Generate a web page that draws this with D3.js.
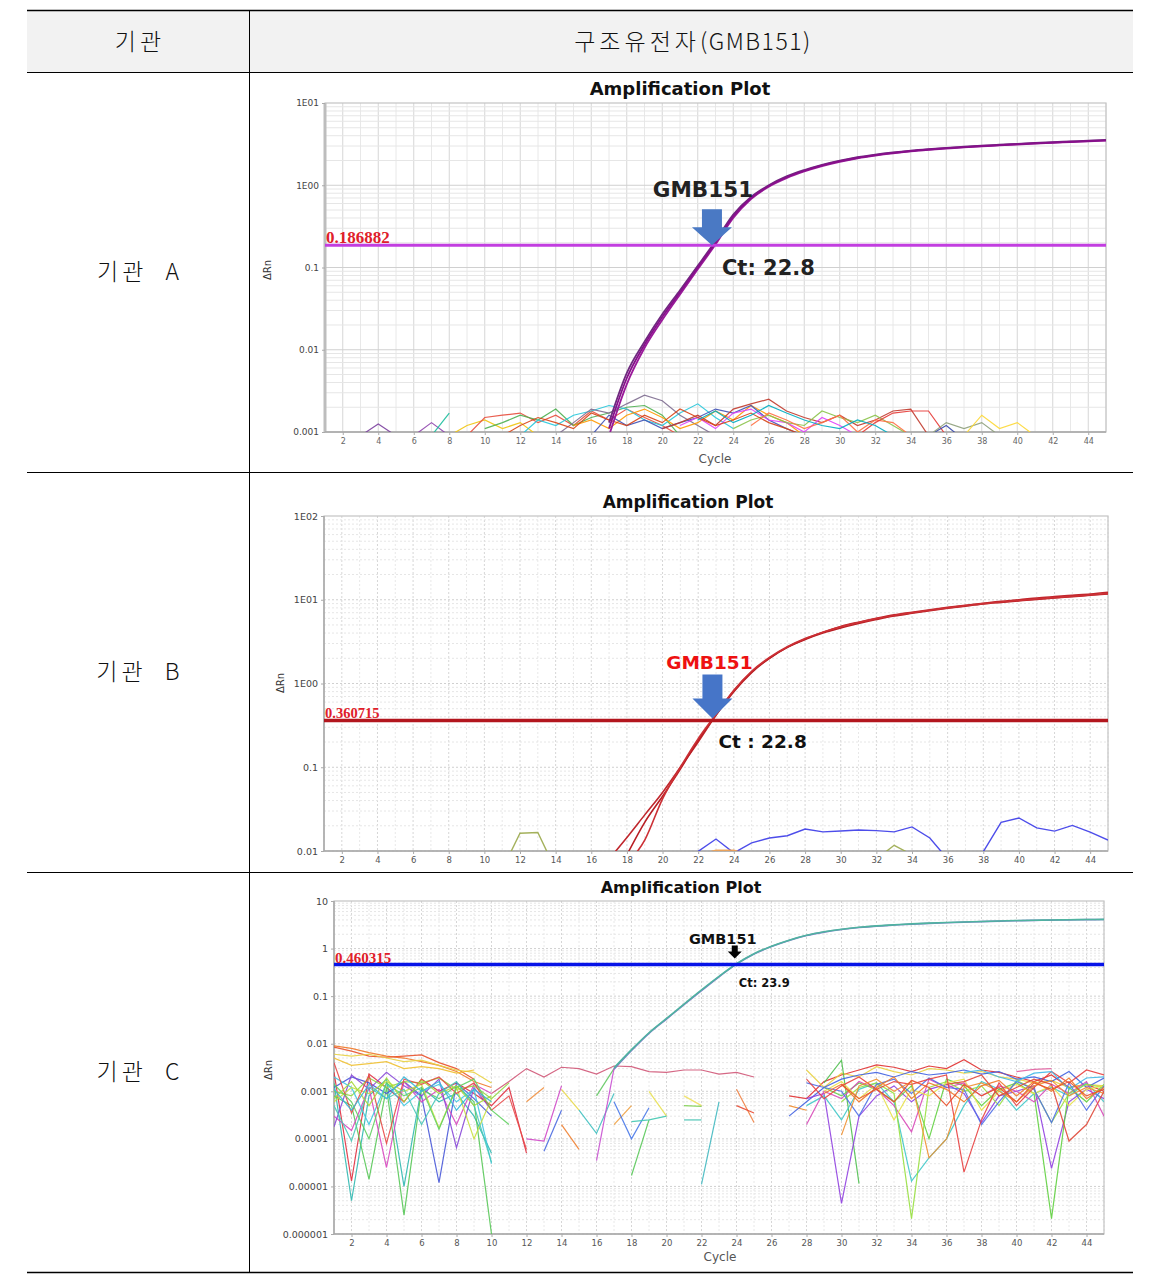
<!DOCTYPE html>
<html><head><meta charset="utf-8">
<script src="https://cdn.jsdelivr.net/npm/d3@7"></script>
<style>body{margin:0;background:#fff}</style>
</head><body><svg id="c" width="1151" height="1278"></svg>
<script>
// ---------------- DATA ----------------
const headerLabels = ["기관", "구조유전자", "(GMB151)"];
const institutions = ["기관  A", "기관  B", "기관  C"];
const plotTitle = "Amplification Plot";
const targetName = "GMB151";
const thresholds = [0.186882, 0.360715, 0.460315];
const thresholdLabels = ["0.186882", "0.360715", "0.460315"];
const ctValues = [22.8, 22.8, 23.9];
const ctLabels = ["Ct: 22.8", "Ct : 22.8", "Ct: 23.9"];
const xTickValues = [2,4,6,8,10,12,14,16,18,20,22,24,26,28,30,32,34,36,38,40,42,44];
const yTickValuesA = [10, 1, 0.1, 0.01, 0.001];
const yTickLabelsA = ["1E01", "1E00", "0.1", "0.01", "0.001"];
const yTickValuesB = [100, 10, 1, 0.1, 0.01];
const yTickLabelsB = ["1E02", "1E01", "1E00", "0.1", "0.01"];
const yTickValuesC = [10, 1, 0.1, 0.01, 0.001, 0.0001, 0.00001, 0.000001];
const yTickLabelsC = ["10", "1", "0.1", "0.01", "0.001", "0.0001", "0.00001", "0.000001"];

// amplification curves: [startCycle, values...]
const ampA1 = [17, 0.0011,0.0045,0.0115,0.025,0.05,0.1,0.2,0.42,0.7,0.98,1.25,1.5,1.74,1.96,2.16,2.33,2.48,2.61,2.72,2.82,2.91,3.0,3.08,3.16,3.24,3.31,3.38,3.45,3.52];
const ampA2 = [17, 0.0009,0.0038,0.0105,0.023,0.047,0.095,0.19,0.4,0.68,0.96,1.22,1.47,1.71,1.93,2.13,2.3,2.45,2.58,2.69,2.79,2.88,2.97,3.05,3.13,3.21,3.28,3.35,3.42,3.48];
const ampA3 = [17, 0.0013,0.0052,0.0125,0.027,0.053,0.105,0.21,0.44,0.72,1.0,1.28,1.53,1.77,1.99,2.19,2.36,2.51,2.64,2.75,2.85,2.94,3.03,3.11,3.19,3.27,3.34,3.41,3.48,3.56];
const ampB1 = [17, 0.008,0.0145,0.027,0.05,0.1,0.2,0.42,0.82,1.38,2.0,2.7,3.4,4.1,4.8,5.4,6.0,6.6,7.1,7.6,8.1,8.6,9.1,9.6,10.0,10.5,10.9,11.3,11.7,12.3];
const ampB2 = [18, 0.009,0.022,0.045,0.095,0.21,0.42,0.8,1.35,2.0,2.7,3.35,4.0,4.6,5.2,5.8,6.4,6.9,7.4,7.9,8.4,8.9,9.3,9.7,10.1,10.5,10.9,11.3,11.7];
const ampB3 = [18, 0.007,0.0135,0.042,0.1,0.22,0.43,0.83,1.4,2.05,2.75,3.45,4.1,4.75,5.35,5.95,6.5,7.0,7.5,8.0,8.5,9.0,9.4,9.8,10.2,10.6,11.0,11.4,11.9];
const ampC1 = [17, 0.0031,0.0075,0.017,0.034,0.068,0.135,0.26,0.48,0.78,1.12,1.5,1.9,2.25,2.55,2.8,3.0,3.15,3.3,3.42,3.52,3.62,3.72,3.8,3.88,3.94,4.0,4.04,4.08,4.1];
const ampC2 = [17, 0.0029,0.0072,0.0165,0.033,0.066,0.13,0.255,0.47,0.77,1.1,1.48,1.88,2.22,2.52,2.77,2.97,3.12,3.27,3.39,3.49,3.59,3.69,3.77,3.85,3.91,3.97,4.01,4.05,4.08];

// background (no-amplification) traces: [startCycle, values...]
const noiseA = [
  [3, 0.0009,0.00125,0.0009],
  [6, 0.0009,0.0013,0.0009],
  [7, 0.0009,0.0017],
  [8, 0.0009,0.0012,0.0014,0.0011,0.0013,0.0009],
  [9, 0.0009,0.0015,0.0016,0.0017,0.0013,0.0016,0.0012,0.0018,0.0014,0.0019,0.0015,0.0012,0.0009],
  [10, 0.0011,0.0013,0.0016,0.0014,0.0019,0.0012,0.0015,0.0017,0.002,0.0021,0.0016,0.0009],
  [12, 0.0009,0.0014,0.0012,0.0016,0.0018,0.0021,0.0019,0.0014,0.0012,0.0017,0.0022,0.0015,0.0011],
  [14, 0.0009,0.0013,0.0019,0.0017,0.0022,0.0028,0.0024,0.0016,0.0012,0.0009],
  [15, 0.0012,0.0014,0.0011,0.0016,0.0019,0.0015,0.0011,0.0013,0.0018,0.0014,0.0021,0.0016,0.0013,0.0009],
  [16, 0.0009,0.0016,0.0012,0.0014,0.0011,0.0013,0.0015,0.0019,0.0017,0.0021,0.0014,0.0011,0.0009],
  [20, 0.0011,0.0013,0.0016,0.0012,0.0019,0.0022,0.0025,0.0018,0.0015,0.0013,0.0016,0.0012,0.0014,0.0018,0.0019,0.0009],
  [21, 0.0012,0.0015,0.0011,0.0017,0.0019,0.0014,0.0013,0.001,0.0015,0.0012,0.0009],
  [24, 0.0011,0.0014,0.0016,0.0013,0.0012,0.0018,0.0015,0.0013,0.0016,0.0012,0.0009],
  [25, 0.0012,0.0017,0.0014,0.0011,0.0013,0.0016,0.001,0.0014,0.0013,0.0009],
  [31, 0.0009,0.0013,0.0017,0.0018,0.0018,0.0009],
  [34, 0.0008,0.0009,0.0012,0.0008],
  [35, 0.0009,0.0013,0.0011,0.0013,0.0009],
  [37, 0.0009,0.0016,0.0011,0.0013,0.0009],
  [11, 0.0009,0.0012,0.0015,0.0013,0.0011,0.0017,0.0014,0.0012,0.0016,0.0013,0.0019,0.0015,0.0012,0.0014,0.0017,0.0013,0.0011,0.0009],
  [22, 0.0014,0.0018,0.0013,0.0016,0.0021,0.0017,0.0014,0.0012,0.0011,0.0014,0.0012,0.0009]
];
const noiseColorsA = ["#7b3f9e","#8e44ad","#1abc9c","#f1c40f","#e74c3c","#4caf50","#26c6da","#7d6b8f","#ff9800","#3f51b5","#c0392b","#e040fb","#8bc34a","#ff7043","#e53935","#3949ab","#8d9f7a","#fdd835","#d84315","#00acc1"];

const noiseB = [
  [11, 0.006,0.0163,0.0166,0.006],
  [22, 0.0099,0.0139,0.0095,0.0125,0.0143,0.0152,0.0183,0.0169,0.0173,0.0178,0.0175,0.0169,0.0194,0.0143,0.008,0.008,0.0098,0.022,0.0248,0.0189,0.0173,0.0202,0.0168,0.0135],
  [22, 0.009,0.0102,0.0102,0.009],
  [32, 0.008,0.0117,0.009]
];
const noiseColorsB = ["#9aa84a","#3a3ae8","#f0a050","#9aa84a"];

const noiseC = [
  [1, 9e-3,8e-3,6.5e-3,5.5e-3,5e-3,4.2e-3,3.5e-3,2.6e-3,1.6e-3,1.2e-3],
  [1, 8.5e-3,7e-3,5.5e-3,5.2e-3,5.5e-3,5.8e-3,4e-3,3e-3,1.8e-3],
  [1, 6e-3,5.5e-3,6e-3,5e-3,4.2e-3,4.5e-3,3.5e-3,2.8e-3,2.5e-3,1.5e-3],
  [1, 5e-3,3.5e-3,3.8e-3,4.2e-3,3e-3,3.3e-3,3e-3,2.4e-3,2.8e-3],
  [1, 2.5e-3,1.3e-5,2.3e-3,1.2e-3,6e-4,1.8e-3,1e-3,1.5e-3,9e-4,5e-4,1.2e-3,5e-5],
  [1, 1.5e-3,5e-6,8e-4,1.8e-3,1e-5,1.2e-3,6e-4,9e-4,3e-4,5e-5],
  [1, 8e-4,5e-4,1.4e-5,1.2e-3,2.5e-6,1.1e-3,7e-4,1.3e-3,6e-4,1e-6],
  [1, 1.2e-3,2e-3,1.5e-3,9e-4,1.6e-3,8e-4,1.2e-5,1.5e-3,7e-4,3e-4],
  [1, 3e-4,1.5e-4,1.2e-3,2.5e-5,1.6e-3,6e-4,1.1e-3,2e-4,1.4e-3,9e-4],
  [1, 1.8e-4,2.2e-3,1.1e-3,2.5e-3,1.3e-3,8e-4,1.8e-3,6.5e-5,1.2e-3,4e-4],
  [1, 1e-3,8e-4,1.9e-3,1.2e-3,1.6e-3,1.5e-3,1.9e-3,1.1e-3,1.3e-3,7e-4,1.5e-3],
  [1, 2e-3,1.2e-3,2e-4,1.5e-3,5e-4,1e-3,1.4e-3,6e-4,1.1e-3,3e-5],
  [1, 6e-4,1.2e-3,9e-4,1.6e-3,1e-3,1.4e-3,1.7e-4,1.2e-3,1e-4,7e-4],
  [1, 4e-3,3.5e-4,2.2e-3,8e-5,1.8e-3,1.4e-3,2e-3,9e-4,1.5e-3,4e-4,8e-4,6e-5],
  [1, 5e-4,9e-5,1.2e-3,7e-4,1.1e-3,2e-4,9e-4,1.6e-3,5e-4,3.2e-5],
  [1, 1.4e-3,6e-4,1e-4,1.5e-3,8e-4,1.2e-3,1.6e-4,1.2e-3,1.8e-3,4e-4,2e-4],
  [1, 7e-4,1.6e-3,5e-4,1.9e-3,6e-4,1.7e-3,9e-4,1.3e-3,5e-4,8e-4],
  [1, 1.1e-3,4e-4,1.4e-3,7e-4,2e-3,1e-3,1.6e-3,4e-4,1.1e-3,6e-4],
  // middle fragments
  [10, 9e-4,1.6e-3,3e-3,2e-3,3.2e-3,3e-3,2.3e-3,3.4e-3,3.3e-3,2.6e-3,2.5e-3,2.8e-3,2.8e-3,2.3e-3,2.5e-3,2e-3],
  [12, 6e-4,1.2e-3],
  [12, 1e-4,9e-5,1.3e-3],
  [14, 1.1e-3,4e-4],
  [13, 5.5e-5,4e-4],
  [14, 2e-4,6e-5],
  [15, 4e-4,1.3e-4,9e-4],
  [16, 8e-4,3e-3],
  [16, 3.5e-5,3e-3],
  [17, 2e-4,5e-4],
  [17, 6e-4,1e-4,4.5e-4],
  [18, 1.7e-5,2.5e-4],
  [19, 1e-3,3e-4],
  [18, 2.3e-4,2.5e-4,3e-4],
  [21, 8e-4,5e-4],
  [21, 5e-4,4.8e-4],
  [21, 2.5e-4,2.5e-4],
  [22, 1.1e-5,6e-4],
  [24, 1.1e-3,2.2e-4],
  [24, 5e-4,3.5e-4],
  [27, 5e-4,4e-4],
  // late cluster
  [27, 8e-4,7e-4,1.6e-3,2.2e-3,2.8e-3,3.6e-3,3.2e-3,2.6e-3,3.4e-3,3e-3,4.6e-3,2.8e-3,2.5e-3,2e-3,1.6e-3,2.2e-3,1.2e-3,1.4e-3,1e-3],
  [28, 2.8e-3,1.2e-3,2.4e-3,2e-3,3.3e-3,2.6e-3,2.2e-3,3e-3,2.8e-3,2.4e-3,2.6e-3,2e-3,1.8e-3,1.5e-3,1.7e-3,1.2e-3,1.4e-3,1.3e-3],
  [29, 1.5e-3,4.5e-3,1.15e-5],
  [27, 3e-4,6e-4,1.2e-3,1.8e-3,2.2e-3,2.5e-3,2e-3,2.6e-3,2.2e-3,2.4e-3,2.8e-3,2.3e-3,2.6e-3,1.8e-3,2e-3,1.6e-3,2.6e-3,1.2e-3,1.9e-3],
  [28, 7e-4,9e-4,4.4e-6,3e-4,8e-4,1.3e-3,6e-4,1.1e-3,1.4e-3,9e-4,2.2e-4,8e-4,1e-3,1.3e-3,2.4e-5,6e-4,1.1e-3,7e-4],
  [28, 5e-4,8e-4,2.5e-4,1.1e-3,1.5e-3,6e-4,1.3e-5,4e-5,1e-4,5e-4,1.6e-3,1.1e-3,4e-4,9e-4,1.2e-3,8e-4,1.5e-3,6e-4],
  [29, 1.2e-3,8e-4,1.5e-3,1.1e-3,6e-4,1.3e-3,1e-4,1.8e-3,1.3e-3,5e-4,1.1e-3,1.5e-3,9e-4,2.1e-6,1.2e-3,6e-4,1.4e-3],
  [28, 2e-4,1e-3,7e-4,1.6e-3,1.1e-3,5e-4,1.4e-4,1.8e-3,1.2e-3,1.5e-3,8e-4,1.3e-3,1e-3,6e-4,1.4e-3,9e-4,1.6e-3,3e-4],
  [30, 6e-4,1.2e-3,1.5e-3,9e-4,2.1e-6,1.2e-3,1.6e-3,1e-3,1.3e-3,5e-4,1.7e-3,1.1e-3,2.2e-4,9e-4,1.4e-3,1.2e-3],
  [29, 1e-3,1.6e-3,7e-4,1.4e-3,2.5e-4,1.1e-3,8e-4,1.5e-3,1.8e-3,4e-4,1e-3,1.4e-3,9e-4,1.3e-3,5e-4,1.1e-3,1.3e-3],
  [28, 1.5e-3,1.2e-3,1e-3,3e-4,1.4e-3,1.8e-3,9e-4,1.9e-3,1.2e-3,1.1e-3,2e-4,6e-4,1.6e-3,1.1e-3,2.2e-4,1.5e-3,4e-4,1.3e-3],
  [28, 1.8e-3,7e-4,1.3e-3,2e-3,1.1e-3,1.6e-3,1.4e-3,1.8e-3,2.2e-3,2e-5,2.5e-4,1.5e-3,5e-4,1.2e-3,2.6e-3,1.5e-3,2.8e-3,2.2e-3],
  [30, 1.2e-4,1.3e-3,1.8e-3,1e-3,1.6e-3,4e-5,1e-4,1.2e-3,1.5e-3,1e-3,6e-4,1.3e-3,1.7e-3,8e-4,1.2e-3,9e-4],
  [36, 1.4e-3,1.6e-3,2.2e-3,8e-4,1.2e-3,1.8e-3,1.4e-3,9e-5,2e-4,1e-3],
  [37, 2.5e-3,2.8e-3,2e-3,1.6e-3,2.4e-3,2.6e-3,1.1e-3,1.9e-3,2e-3],
  [40, 2.6e-3,2.9e-3,3e-3],
  [29, 9e-4,1.4e-3,6e-4,1.2e-3,2e-3,7e-4,1.5e-3,1.1e-3,6e-4,1.3e-3,1.7e-3,8e-4,1.6e-3,1e-3,1.9e-3,7e-4,1.2e-3],
  [30, 1.4e-3,7e-4,1.1e-3,6e-4,1.7e-3,1.2e-3,5e-4,1.4e-3,8e-4,1.2e-3,6e-4,1.5e-3,1.1e-3,1.6e-3,8e-4,1.1e-3]
];
const noiseColorsC = ["#f07828","#e8502a","#e8d040","#f0c030","#e03040","#30b8b0","#58c858","#4858d8","#d848c0","#8848d8","#90d840","#40c8e0","#c8e040","#e84848","#48c8b8","#60d060","#a8d838","#38b8d8",
  "#d05878","#f09040","#d048c8","#e8d848","#4868e0","#f08030","#40c0c0","#60c860","#c850d0","#f0a040","#4878e8","#58c858","#e8e050","#40c8b0","#f0e060","#80d050","#40c0b0","#40b8c0","#f08040",
  "#e84830","#f08828","#e03030","#e8d040","#50c050","#4060e0","#9040e0","#40c8c8","#60d040","#d848b8","#98e040","#e8e048","#5070e8","#e84040","#f09030","#e04838","#40b8e8","#e060a0"];

// ---------------- DRAWING ----------------
const svg = d3.select("#c");

// table
const tbl = {x0: 27, x1: 1133, xDiv: 249, rows: [10, 72, 472, 872, 1272]};
svg.append("rect").attr("x", tbl.x0).attr("y", tbl.rows[0]).attr("width", tbl.x1 - tbl.x0)
  .attr("height", tbl.rows[1] - tbl.rows[0]).attr("fill", "#f2f2f2");
tbl.rows.forEach((y, i) => svg.append("line").attr("x1", tbl.x0).attr("x2", tbl.x1).attr("y1", y + 0.5).attr("y2", y + 0.5)
  .attr("stroke", "#000").attr("stroke-width", (i === 0 || i === 4) ? 1.6 : 1));
svg.append("line").attr("x1", tbl.xDiv + 0.5).attr("x2", tbl.xDiv + 0.5).attr("y1", tbl.rows[0]).attr("y2", tbl.rows[4]).attr("stroke", "#000");
const korFont = "'Noto Sans CJK KR', 'Noto Sans', sans-serif";
function korText(x, y, parts) {
  const t = svg.append("text").attr("x", x).attr("y", y).attr("text-anchor", "middle")
    .attr("font-family", korFont).attr("font-size", 23).attr("font-weight", 300)
    .attr("fill", "#111").attr("xml:space", "preserve").style("white-space", "pre");
  parts.forEach(pt => t.append("tspan").attr("letter-spacing", pt[1]).text(pt[0]));
}
korText((tbl.x0 + tbl.xDiv) / 2 + 2, 50, [[headerLabels[0], 4]]);
korText((tbl.xDiv + tbl.x1) / 2 + 2, 50, [[headerLabels[1], 4], [headerLabels[2], 1.5]]);
institutions.forEach((t, i) => korText((tbl.x0 + tbl.xDiv) / 2 + 2, (tbl.rows[i + 1] + tbl.rows[i + 2]) / 2 + 8, [[t, 4]]));

function toPts(s) { return s.slice(1).map((v, i) => ({c: s[0] + i, v})); }

const panels = [
  {box: {x0: 325, x1: 1106, y0: 103, y1: 432}, dom: [0.001, 10], tv: yTickValuesA, tl: yTickLabelsA,
   amps: [ampA2, ampA3, ampA1], ampColors: ["#9a1a9a", "#6e2a7e", "#86108a"], ampW: 1.8,
   noise: noiseA, noiseColors: noiseColorsA, thrColor: "#c23ee0", thrW: 3,
   grid: "solid", title: {y: 95, size: 18, cx: 680}, ylab: {x: 271, y: 270}, cycle: {x: 715, y: 463},
   tickFont: 8, tickColor: "#666", ytickFont: 9, thrLabel: {size: 17, dy: -2},
   ann: {name: {dy: -48, dx: -9, size: 21.5, color: "#222"}, ct: {dx: 10, dy: 30, size: 21, color: "#222"},
         arrow: {shaft: 10, head: 20, hh: 18, len: 36, gap: 0, color: "#4a79c4"}}},
  {box: {x0: 324, x1: 1108, y0: 516, y1: 851}, dom: [0.01, 100], tv: yTickValuesB, tl: yTickLabelsB,
   amps: [ampB1, ampB2, ampB3], ampColors: ["#c0272d", "#b81e24", "#cc3035"], ampW: 1.6,
   noise: noiseB, noiseColors: noiseColorsB, thrColor: "#b3161e", thrW: 3.5,
   grid: "dot", title: {y: 508, size: 17, cx: 688}, ylab: {x: 284, y: 683}, cycle: null,
   tickFont: 8.5, tickColor: "#555", ytickFont: 9.5, thrLabel: {size: 14.5, dy: -3},
   ann: {name: {dy: -52, dx: -3, size: 18.5, color: "#ee1111"}, ct: {dx: 6, dy: 27, size: 18.5, color: "#111"},
         arrow: {shaft: 10, head: 20, hh: 20, len: 44, gap: 2, color: "#4675c8"}}},
  {box: {x0: 334, x1: 1104, y0: 901, y1: 1234}, dom: [0.000001, 10], tv: yTickValuesC, tl: yTickLabelsC,
   amps: [ampC2, ampC1], ampColors: ["#7c7cc8", "#4fb3a0"], ampW: 1.6,
   noise: noiseC, noiseColors: noiseColorsC, thrColor: "#0814e8", thrW: 3.5,
   grid: "dot", title: {y: 893, size: 16, cx: 681}, ylab: {x: 272, y: 1070}, cycle: {x: 720, y: 1261},
   tickFont: 8.5, tickColor: "#555", ytickFont: 9.5, thrLabel: {size: 15, dy: -2},
   ann: {name: {dy: -21, dx: -12, size: 14.5, color: "#111"}, ct: {dx: 4, dy: 22, size: 11.5, color: "#111"},
         arrow: {shaft: 3, head: 7, hh: 7, len: 13, gap: 6, color: "#000"}}}
];

panels.forEach((p, pi) => {
  const b = p.box;
  const x = d3.scaleLinear().domain([1, 45]).range([b.x0, b.x1]);
  const y = d3.scaleLog().domain(p.dom).range([b.y1, b.y0]);
  const g = svg.append("g");
  const clipId = "clip" + pi;
  svg.append("clipPath").attr("id", clipId).append("rect").attr("x", b.x0).attr("y", b.y0 - 2)
    .attr("width", b.x1 - b.x0).attr("height", b.y1 - b.y0 + 2);

  // grid
  const gg = g.append("g");
  const dash = p.grid === "dot" ? "2,2" : null;
  d3.range(1, 46).forEach(c => {
    gg.append("line").attr("x1", x(c)).attr("x2", x(c)).attr("y1", b.y0).attr("y2", b.y1)
      .attr("stroke", c % 2 === 0 ? "#d6d6d6" : "#e8e8e8").attr("stroke-width", 1).attr("stroke-dasharray", dash);
  });
  const lo = Math.log10(p.dom[0]), hi = Math.log10(p.dom[1]);
  for (let e = lo; e < hi; e++) {
    for (let m = 1; m < 10; m++) {
      const v = m * Math.pow(10, e);
      gg.append("line").attr("x1", b.x0).attr("x2", b.x1).attr("y1", y(v)).attr("y2", y(v))
        .attr("stroke", m === 1 ? "#d0d0d0" : "#e6e6e6").attr("stroke-width", 1).attr("stroke-dasharray", dash);
    }
  }
  // frame
  g.append("rect").attr("x", b.x0).attr("y", b.y0).attr("width", b.x1 - b.x0).attr("height", b.y1 - b.y0)
    .attr("fill", "none").attr("stroke", "#c4c4c4").attr("stroke-width", 1.2);
  g.append("line").attr("x1", b.x0).attr("x2", b.x0).attr("y1", b.y0).attr("y2", b.y1)
    .attr("stroke", pi === 0 ? "#bdbdbd" : "#a8a8a8").attr("stroke-width", pi === 0 ? 3 : 1.5);
  g.append("line").attr("x1", b.x0).attr("x2", b.x1).attr("y1", b.y1).attr("y2", b.y1)
    .attr("stroke", "#a8a8a8").attr("stroke-width", 1.5);

  // axes
  const xAxis = d3.axisBottom(x).tickValues(xTickValues).tickSize(3).tickFormat(d3.format("d"));
  const xa = g.append("g").attr("transform", `translate(0,${b.y1})`).call(xAxis);
  xa.select(".domain").remove();
  xa.selectAll("line").attr("stroke", "#aaa");
  xa.selectAll("text").attr("font-family", "DejaVu Sans, sans-serif").attr("font-size", p.tickFont).attr("fill", p.tickColor);
  const yAxis = d3.axisLeft(y).tickValues(p.tv).tickSize(3).tickFormat((d, i) => p.tl[i]);
  const ya = g.append("g").attr("transform", `translate(${b.x0},0)`).call(yAxis);
  ya.select(".domain").remove();
  ya.selectAll("line").attr("stroke", "#aaa");
  ya.selectAll("text").attr("font-family", "DejaVu Sans, sans-serif").attr("font-size", p.ytickFont).attr("fill", "#444");

  // title and labels
  svg.append("text").attr("x", p.title.cx).attr("y", p.title.y).attr("text-anchor", "middle")
    .attr("font-family", "DejaVu Sans, sans-serif").attr("font-weight", "bold").attr("font-size", p.title.size)
    .attr("fill", "#111").text(plotTitle);
  svg.append("text").attr("transform", `translate(${p.ylab.x},${p.ylab.y}) rotate(-90)`).attr("text-anchor", "middle")
    .attr("font-family", "DejaVu Sans, sans-serif").attr("font-size", 10).attr("fill", "#333").text("ΔRn");
  if (p.cycle) svg.append("text").attr("x", p.cycle.x).attr("y", p.cycle.y).attr("text-anchor", "middle")
    .attr("font-family", "DejaVu Sans, sans-serif").attr("font-size", 12).attr("fill", "#555").text("Cycle");

  // traces
  const data = g.append("g").attr("clip-path", `url(#${clipId})`);
  const lineN = d3.line().x(d => x(d.c)).y(d => y(d.v)).defined(d => d.v != null && d.v > 0);
  p.noise.forEach((s, i) => {
    data.append("path").attr("d", lineN(toPts(s))).attr("fill", "none")
      .attr("stroke", p.noiseColors[i % p.noiseColors.length]).attr("stroke-width", pi === 1 ? 1.4 : 1.2)
      .attr("stroke-opacity", 0.9);
  });
  const lineA = d3.line().x(d => x(d.c)).y(d => y(d.v)).curve(d3.curveMonotoneX);
  p.amps.forEach((s, i) => {
    data.append("path").attr("d", lineA(toPts(s))).attr("fill", "none")
      .attr("stroke", p.ampColors[i]).attr("stroke-width", p.ampW);
  });

  // threshold
  const ty = y(thresholds[pi]);
  g.append("line").attr("x1", b.x0).attr("x2", b.x1).attr("y1", ty).attr("y2", ty)
    .attr("stroke", p.thrColor).attr("stroke-width", p.thrW);
  g.append("text").attr("x", b.x0 + 1).attr("y", ty + p.thrLabel.dy).attr("font-family", "Liberation Serif, serif")
    .attr("font-weight", "bold").attr("font-size", p.thrLabel.size).attr("fill", "#e0202a").text(thresholdLabels[pi]);

  // annotation
  const tx = x(ctValues[pi]);
  const a = p.ann.arrow;
  const tipY = ty - a.gap;
  const path = d3.path();
  path.moveTo(tx - a.shaft, tipY - a.len);
  path.lineTo(tx + a.shaft, tipY - a.len);
  path.lineTo(tx + a.shaft, tipY - a.hh);
  path.lineTo(tx + a.head, tipY - a.hh);
  path.lineTo(tx, tipY);
  path.lineTo(tx - a.head, tipY - a.hh);
  path.lineTo(tx - a.shaft, tipY - a.hh);
  path.closePath();
  g.append("path").attr("d", path.toString()).attr("fill", a.color);
  g.append("text").attr("x", tx + p.ann.name.dx).attr("y", ty + p.ann.name.dy).attr("text-anchor", "middle")
    .attr("font-family", "DejaVu Sans, sans-serif").attr("font-weight", "bold").attr("font-size", p.ann.name.size)
    .attr("fill", p.ann.name.color).text(targetName);
  g.append("text").attr("x", tx + p.ann.ct.dx).attr("y", ty + p.ann.ct.dy)
    .attr("font-family", "DejaVu Sans, sans-serif").attr("font-weight", "bold").attr("font-size", p.ann.ct.size)
    .attr("fill", p.ann.ct.color).attr("xml:space", "preserve").style("white-space", "pre").text(ctLabels[pi]);
});
</script>
</body></html>
